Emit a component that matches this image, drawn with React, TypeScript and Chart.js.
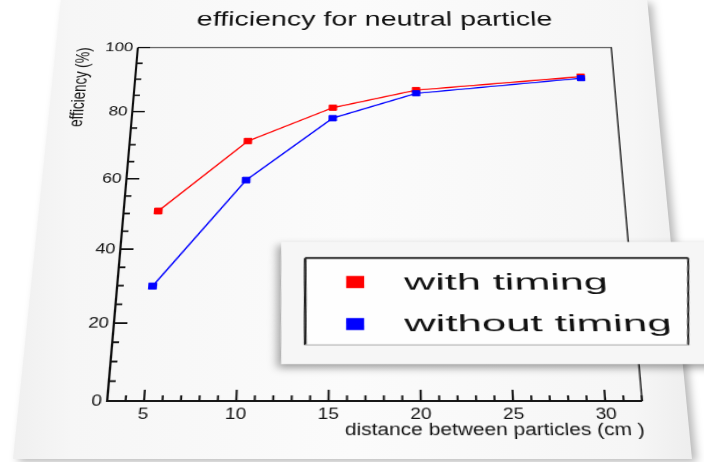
import React, { useEffect, useRef } from 'react';
import { Chart, registerables } from 'chart.js';

Chart.register(...registerables);

// ---------- data ----------
const chartTitle = 'efficiency for neutral particle';
const xAxisTitle = 'distance between particles (cm )';
const yAxisTitle = 'efficiency (%)';
const seriesLabels = ['with timing', 'without timing'];
const seriesColors = ['#ff0000', '#0000ff'];
const withTimingX = [5, 10, 15, 20, 30];
const withTimingY = [50.7, 71.1, 81.2, 86.6, 90.8];
const withoutTimingX = [5, 10, 15, 20, 30];
const withoutTimingY = [29.9, 59.6, 78.0, 85.6, 90.3];
const xTickValues = [5, 10, 15, 20, 25, 30];
const yTickValues = [0, 20, 40, 60, 80, 100];
const xRange = [3, 32];
const yRange = [0, 100];
const xMinorStep = 1;
const yMinorStep = 5;

// ---------- view (tilted-screenshot look) ----------
const FONT = '"Liberation Sans", Arial, Helvetica, sans-serif';
const S = 1.15;
const THETA_DEG = 20;
const TH = (THETA_DEG * Math.PI) / 180;
const PERSP = 1119;
const OX = 325.2;
const OY = 491;
const LEFT = 48.8;
const TOP = -90;
const EW = 650;
const EH = 555;
const AREA_LEFT = 93;
const AREA_RIGHT = 558.2;

// screen point -> canvas (element) point, inverse of the CSS transform
function toEl(xs: number, ys: number) {
  const Y = ys - TOP - OY;
  const u = (Y * PERSP) / (PERSP * Math.cos(TH) + Y * Math.sin(TH));
  const f = PERSP / (PERSP - u * Math.sin(TH));
  const x = OX + (xs - LEFT - OX) / (f * S);
  return { x, y: OY + u };
}

const framePlugin = {
  id: 'rootFrame',
  beforeDatasetsDraw(chart: any) {
    const { ctx, chartArea: a, scales } = chart;
    const xs = scales.x;
    const ys = scales.y;
    ctx.save();
    ctx.lineCap = 'butt';
    ctx.strokeStyle = '#3a3a3a';
    ctx.lineWidth = 1.6;
    ctx.beginPath();
    ctx.moveTo(a.left, a.top);
    ctx.lineTo(a.right, a.top);
    ctx.lineTo(a.right, a.bottom);
    ctx.stroke();
    ctx.strokeStyle = '#111';
    ctx.lineWidth = 2.1;
    ctx.beginPath();
    ctx.moveTo(a.left, a.top);
    ctx.lineTo(a.left, a.bottom);
    ctx.lineTo(a.right, a.bottom);
    ctx.stroke();
    ctx.lineWidth = 1.8;
    ctx.beginPath();
    for (let v = ys.min; v <= ys.max + 1e-9; v += yMinorStep) {
      const major = yTickValues.some((t) => Math.abs(t - v) < 1e-6);
      const py = ys.getPixelForValue(v);
      ctx.moveTo(a.left, py);
      ctx.lineTo(a.left + (major ? 12 : 6), py);
    }
    for (let v = Math.ceil(xs.min); v <= xs.max + 1e-9; v += xMinorStep) {
      const major = xTickValues.some((t) => Math.abs(t - v) < 1e-6);
      const px = xs.getPixelForValue(v);
      ctx.moveTo(px, a.bottom);
      ctx.lineTo(px, a.bottom - (major ? 12 : 6));
    }
    ctx.stroke();
    ctx.restore();
  },
};

const legendPlugin = {
  id: 'rootLegend',
  afterDraw(chart: any) {
    const ctx = chart.ctx;
    const quad = (pts: number[][]) => {
      ctx.beginPath();
      pts.forEach((p, i) => {
        const e = toEl(p[0], p[1]);
        if (i === 0) ctx.moveTo(e.x, e.y);
        else ctx.lineTo(e.x, e.y);
      });
      ctx.closePath();
    };
    const line = (x1: number, y1: number, x2: number, y2: number) => {
      const a = toEl(x1, y1);
      const b = toEl(x2, y2);
      ctx.beginPath();
      ctx.moveTo(a.x, a.y);
      ctx.lineTo(b.x, b.y);
      ctx.stroke();
    };
    ctx.save();
    ctx.shadowColor = 'rgba(0,0,0,0.38)';
    ctx.shadowBlur = 9;
    ctx.shadowOffsetX = -3;
    ctx.shadowOffsetY = 4;
    quad([[281, 242], [740, 242], [740, 364], [281, 364]]);
    ctx.fillStyle = '#f6f6f6';
    ctx.fill();
    ctx.shadowColor = 'transparent';
    quad([[305, 258], [688, 258], [688, 345], [305, 345]]);
    ctx.fillStyle = '#fefefe';
    ctx.fill();
    ctx.strokeStyle = '#222';
    ctx.lineWidth = 2.4;
    line(305, 258, 688, 258);
    line(305, 258, 305, 345);
    ctx.lineWidth = 1.8;
    line(688, 258, 688, 345);
    ctx.strokeStyle = '#bdbdbd';
    ctx.lineWidth = 1.4;
    line(305, 345, 688, 345);

    chart.data.datasets.forEach((ds: any, i: number) => {
      const cy = 282 + 42 * i;
      quad([[346, cy - 6], [364, cy - 6], [364, cy + 6], [346, cy + 6]]);
      ctx.fillStyle = ds.backgroundColor;
      ctx.fill();
      const p = toEl(404, cy + 7.5);
      ctx.save();
      ctx.translate(p.x, p.y);
      ctx.scale(1.5, 1);
      ctx.font = `26px ${FONT}`;
      ctx.textBaseline = 'alphabetic';
      ctx.textAlign = 'left';
      ctx.fillStyle = '#111';
      ctx.fillText(ds.label, 0, 0);
      ctx.restore();
    });
    ctx.restore();
  },
};

export default function App() {
  const canvasRef = useRef<HTMLCanvasElement | null>(null);

  useEffect(() => {
    if (!canvasRef.current) return;
    const mkSet = (i: number, xs: number[], ys: number[]) => ({
      label: seriesLabels[i],
      data: xs.map((x, k) => ({ x, y: ys[k] })),
      borderColor: seriesColors[i],
      backgroundColor: seriesColors[i],
      pointBackgroundColor: seriesColors[i],
      pointBorderColor: seriesColors[i],
      pointStyle: 'rect',
      pointRadius: 5,
      pointBorderWidth: 1,
      borderWidth: 1.6,
      tension: 0,
      fill: false,
      order: 2 - i,
    });
    const chart = new Chart(canvasRef.current, {
      type: 'line',
      data: {
        datasets: [
          mkSet(0, withTimingX, withTimingY),
          mkSet(1, withoutTimingX, withoutTimingY),
        ],
      },
      options: {
        animation: false,
        responsive: false,
        events: [],
        layout: { padding: { left: 0, right: EW - AREA_RIGHT, top: 0, bottom: 0 } },
        plugins: {
          legend: { display: false },
          tooltip: { enabled: false },
          title: {
            display: true,
            text: chartTitle,
            fullSize: false,
            color: '#111',
            font: { family: FONT, size: 28.4, weight: 'normal' },
            padding: { top: 11.2, bottom: 20.7 },
          },
        },
        scales: {
          x: {
            type: 'linear',
            min: xRange[0],
            max: xRange[1],
            afterBuildTicks: (s: any) => {
              s.ticks = xTickValues.map((v) => ({ value: v }));
            },
            afterFit: (s: any) => {
              s.height = EH - OY;
            },
            grid: { display: false, drawTicks: false },
            border: { display: false },
            ticks: {
              color: '#111',
              font: { family: FONT, size: 16.5 },
              padding: 5,
              maxRotation: 0,
              autoSkip: false,
            },
            title: {
              display: true,
              text: xAxisTitle,
              align: 'end',
              color: '#111',
              font: { family: FONT, size: 18 },
              padding: { top: 0, bottom: 22.6 },
            },
          },
          y: {
            type: 'linear',
            min: yRange[0],
            max: yRange[1],
            afterBuildTicks: (s: any) => {
              s.ticks = yTickValues.map((v) => ({ value: v }));
            },
            afterFit: (s: any) => {
              s.width = AREA_LEFT;
            },
            grid: { display: false, drawTicks: false },
            border: { display: false },
            ticks: {
              color: '#111',
              font: { family: FONT, size: 16.5 },
              padding: 4.5,
            },
            title: {
              display: true,
              text: yAxisTitle,
              align: 'end',
              color: '#111',
              font: { family: FONT, size: 17.5 },
              padding: { top: 30.5, bottom: 0 },
            },
          },
        },
      } as any,
      plugins: [framePlugin, legendPlugin],
    });
    return () => chart.destroy();
  }, []);

  return (
    <div
      style={{
        position: 'fixed',
        left: 0,
        top: 0,
        width: 704,
        height: 462,
        overflow: 'hidden',
        background: '#ffffff',
      }}
    >
      <div
        style={{
          position: 'absolute',
          inset: 0,
          filter: 'drop-shadow(5px 3px 4px rgba(0,0,0,0.28))',
        }}
      >
        <div
          style={{
            position: 'absolute',
            inset: 0,
            clipPath: 'polygon(61px -2px, 647px -2px, 692px 459px, 13px 459px)',
            background:
              'linear-gradient(to right, #eeeeee 0%, #f6f6f6 10%, #fbfbfb 50%, #f6f6f6 90%, #ececec 100%)',
          }}
        />
      </div>
      <div
        style={{
          position: 'absolute',
          left: LEFT,
          top: TOP,
          width: EW,
          height: EH,
          transformOrigin: `${OX}px ${OY}px`,
          transform: `perspective(${PERSP}px) rotateX(${THETA_DEG}deg) scaleX(${S})`,
        }}
      >
        <canvas
          ref={canvasRef}
          width={EW}
          height={EH}
          style={{ display: 'block', width: EW, height: EH }}
        />
      </div>
    </div>
  );
}
